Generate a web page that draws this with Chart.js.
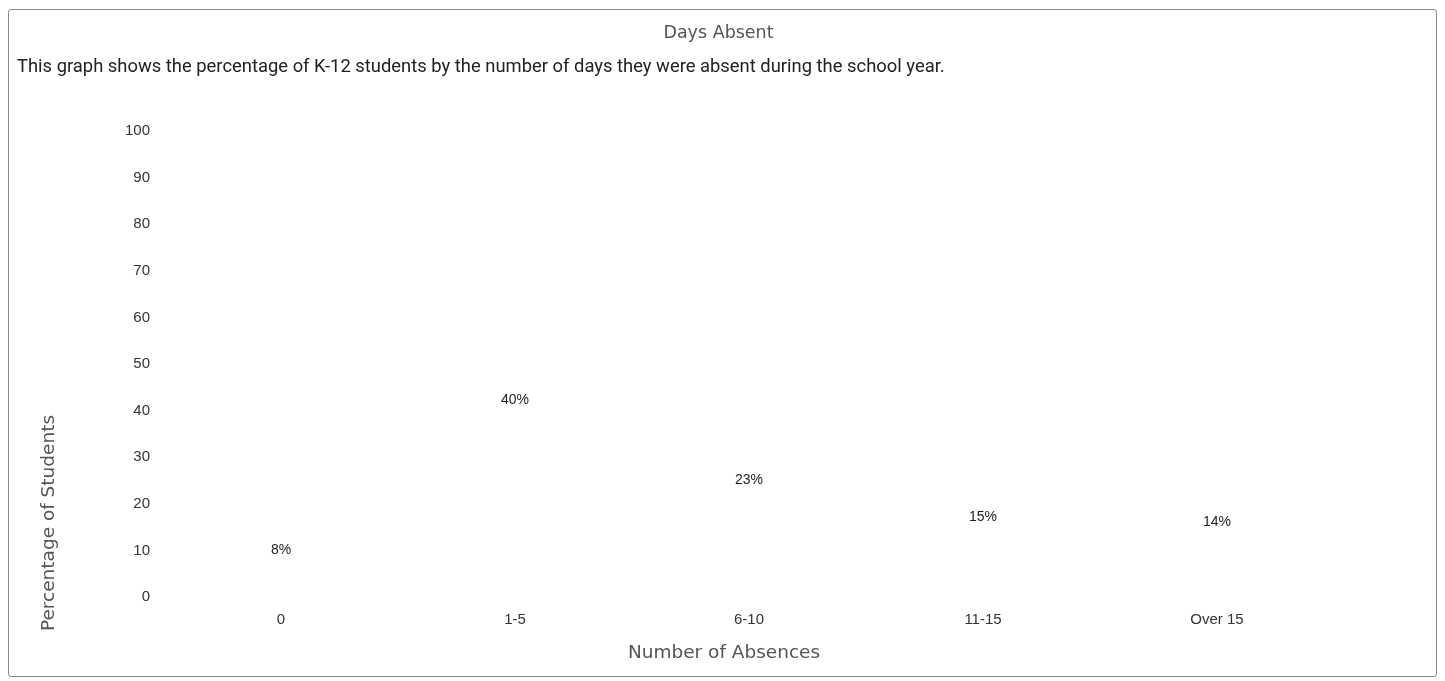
<!DOCTYPE html>
<html>
<head>
<meta charset="utf-8">
<title>Days Absent</title>
<script src="https://cdn.jsdelivr.net/npm/chart.js@4.4.1/dist/chart.umd.min.js"></script>
<style>
    body { margin: 0; background: #fff; }
    #box {
        position: absolute;
        left: 8px; top: 9px;
        width: 1427px; height: 666px;
        border: 1px solid #8a8a8a;
        border-radius: 3px;
    }
    #chartTitle {
        position: absolute; left: 0; right: 8px; top: 12px;
        text-align: center;
        font: 17.5px "DejaVu Sans", sans-serif;
        color: #555;
    }
    #chartSub {
        position: absolute; left: 8px; top: 45px;
        font: 18.4px Roboto, sans-serif;
        color: #222;
    }
    #cv { position: absolute; left: 0; top: 0; }
</style>
</head>
<body>
<div id="box">
    <canvas id="cv" width="1427" height="666"></canvas>
    <div id="chartTitle">Days Absent</div>
    <div id="chartSub">This graph shows the percentage of K-12 students by the number of days they were absent during the school year.</div>
</div>
<script>
const categories = ['0', '1-5', '6-10', '11-15', 'Over 15'];
const percentages = [8, 40, 23, 15, 14];
const yTicks = [0, 10, 20, 30, 40, 50, 60, 70, 80, 90, 100];

const yTitle = 'Percentage of Students';
const xTitle = 'Number of Absences';

// value labels above each bar
const valueLabels = {
    id: 'valueLabels',
    afterDatasetsDraw(chart) {
        const c = chart.ctx;
        const meta = chart.getDatasetMeta(0);
        c.save();
        c.font = '14px "Liberation Sans", Arial, sans-serif';
        c.fillStyle = '#222';
        c.textAlign = 'center';
        c.textBaseline = 'middle';
        meta.data.forEach((bar, i) => {
            c.fillText(percentages[i] + '%', bar.x, bar.y - 10);
        });
        c.restore();
    }
};

// axis titles: placed like the original, not centred on the plot
const axisTitles = {
    id: 'axisTitles',
    afterDraw(chart) {
        const c = chart.ctx;
        c.save();
        c.font = '18.5px "DejaVu Sans", sans-serif';
        c.fillStyle = '#555';
        c.textAlign = 'center';
        c.textBaseline = 'middle';
        c.fillText(xTitle, 715, 643);
        c.translate(40, 513);
        c.rotate(-Math.PI / 2);
        c.fillText(yTitle, 0, 0);
        c.restore();
    }
};

const ctx = document.getElementById('cv').getContext('2d');
const chart = new Chart(ctx, {
    type: 'bar',
    data: {
        labels: categories,
        datasets: [{
            data: percentages,
            backgroundColor: 'rgba(255, 255, 255, 0)',
            borderWidth: 0
        }]
    },
    options: {
        responsive: false,
        animation: false,
        layout: { padding: { left: 102, right: 102, top: 121, bottom: 33 } },
        plugins: {
            legend: { display: false },
            tooltip: { enabled: false }
        },
        scales: {
            x: {
                grid: { display: false, drawTicks: false },
                border: { display: false },
                ticks: {
                    padding: 14,
                    maxRotation: 0,
                    color: '#333',
                    font: { family: '"Liberation Sans", Arial, sans-serif', size: 15 }
                }
            },
            y: {
                min: 0,
                max: 100,
                afterBuildTicks(axis) {
                    axis.ticks = yTicks.map(v => ({ value: v }));
                },
                grid: { display: false, drawTicks: false },
                border: { display: false },
                ticks: {
                    padding: 14,
                    color: '#333',
                    font: { family: '"Liberation Sans", Arial, sans-serif', size: 15 }
                }
            }
        }
    },
    plugins: [valueLabels, axisTitles]
});
</script>
</body>
</html>
